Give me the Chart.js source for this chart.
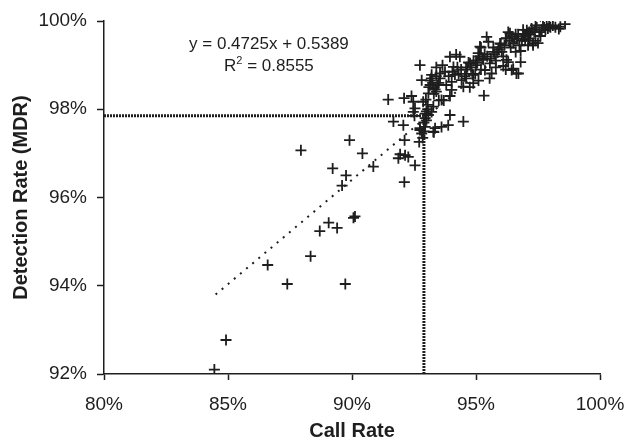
<!DOCTYPE html>
<html>
<head>
<meta charset="utf-8">
<script src="https://cdn.jsdelivr.net/npm/chart.js@4"></script>
<style>
  html, body { margin: 0; padding: 0; background: #fff; }
  #wrap { width: 627px; height: 444px; }
</style>
</head>
<body>
<div id="wrap"><canvas id="callChart" width="627" height="444"></canvas></div>
<script>
// Call rate (x) and detection rate (y), in percent
const callRate = [
    84.45, 84.92, 86.60, 87.39, 87.94, 88.33, 88.70, 89.06, 89.40, 89.73,
    90.06, 90.12, 89.22, 89.76, 89.60, 89.90, 90.42, 90.86, 92.11, 92.54,
    91.94, 92.14, 92.27, 91.87, 92.12, 92.71, 92.74, 91.67, 92.07, 92.47,
    92.52, 92.81, 92.74, 93.08, 93.21, 93.28, 93.28, 93.61, 93.95, 93.88,
    94.49, 93.35, 93.30, 92.87, 92.47, 92.10, 91.46, 92.90, 92.95, 93.00,
    93.50, 92.74, 92.81, 93.21, 93.55, 93.15, 93.28, 93.08, 93.61, 93.95,
    94.35, 94.09, 94.15, 94.02, 94.42, 94.49, 94.02, 94.76, 94.89, 95.00,
    94.60, 93.70, 93.40, 93.50, 93.95, 95.32, 95.43, 95.50, 95.16, 95.09,
    95.29, 95.00, 95.56, 95.36, 95.63, 95.70, 95.97, 96.23, 96.37, 96.04,
    96.23, 96.30, 96.10, 96.44, 96.50, 96.71, 96.80, 96.60, 96.80, 96.50,
    96.98, 97.20, 97.24, 97.40, 97.70, 97.90, 98.00, 98.20, 98.34, 98.59,
    97.10, 97.40, 97.60, 97.50, 97.30, 96.90, 94.97, 94.89, 94.75, 95.10,
    94.85, 95.80, 96.20, 96.63, 95.55, 92.40, 92.98, 92.54, 93.20, 94.20,
    94.70, 94.90, 95.20, 95.20, 95.70, 95.80, 96.00, 96.10, 96.20, 96.30,
    97.05, 97.30, 97.10, 98.40, 97.80, 97.55, 97.00, 96.85, 96.65, 96.40,
    95.90, 95.45, 95.15, 94.60, 94.30, 93.80, 93.40, 93.65, 92.95, 92.85,
    93.05,
    // dense part of the cloud
    93.10, 93.25, 93.35, 93.45, 93.15, 93.30, 93.40, 93.55, 93.75, 93.90,
    94.05, 94.25, 94.40, 94.55, 94.65, 94.80, 95.05, 95.25, 95.35, 95.60,
    95.75, 95.85, 95.95, 96.15, 96.35, 96.55, 96.70, 96.75, 96.95, 97.15,
    97.25, 97.35, 97.45, 97.65, 97.75, 97.85, 97.95, 98.10, 96.45, 96.60,
    96.90, 97.15, 92.95, 93.05, 92.90, 93.00
];
const detectionRate = [
    92.10, 92.77, 94.47, 94.04, 97.07, 94.67, 95.24, 95.43, 95.31, 94.04,
    95.54, 95.57, 96.66, 96.50, 96.27, 97.30, 97.00, 96.70, 96.35, 96.73,
    96.98, 96.96, 96.92, 96.89, 97.30, 97.26, 97.53, 97.72, 97.64, 97.94,
    97.85, 97.45, 97.57, 97.87, 97.94, 98.06, 97.49, 97.60, 97.87, 97.64,
    97.72, 97.57, 97.48, 98.17, 98.17, 98.25, 98.22, 97.70, 97.80, 97.95,
    98.20, 99.00, 98.66, 98.78, 98.81, 98.55, 98.47, 98.36, 98.21, 99.19,
    99.19, 98.96, 98.78, 98.62, 98.66, 98.51, 98.44, 99.04, 98.78, 99.10,
    98.90, 98.20, 98.40, 98.60, 98.30, 98.31, 99.64, 99.53, 99.42, 99.27,
    99.12, 99.00, 99.04, 98.89, 98.81, 99.30, 99.49, 99.61, 99.72, 99.30,
    99.12, 99.07, 98.98, 98.89, 98.92, 98.81, 99.07, 99.30, 99.32, 99.50,
    99.57, 99.70, 99.83, 99.90, 99.90, 99.83, 99.86, 99.86, 99.82, 99.93,
    99.45, 99.55, 99.66, 99.50, 99.45, 99.80, 98.80, 98.59, 98.50, 98.65,
    98.80, 98.95, 98.90, 98.81, 98.70, 98.30, 98.22, 98.02, 98.70, 99.24,
    99.06, 99.10, 99.40, 98.90, 99.40, 99.10, 99.48, 99.20, 99.60, 99.75,
    99.79, 99.50, 99.70, 99.87, 99.80, 99.75, 99.65, 99.55, 99.60, 99.40,
    99.35, 99.20, 99.20, 98.70, 98.80, 98.55, 98.95, 99.00, 97.60, 97.35,
    98.10,
    // dense part of the cloud
    98.50, 98.60, 98.45, 98.55, 98.65, 98.35, 98.75, 98.70, 98.85, 98.75,
    98.85, 98.95, 98.90, 98.75, 98.95, 98.95, 99.05, 99.15, 99.25, 99.15,
    99.25, 99.30, 99.40, 99.45, 99.55, 99.60, 99.70, 99.45, 99.70, 99.75,
    99.80, 99.75, 99.85, 99.80, 99.85, 99.90, 99.88, 99.90, 99.65, 99.70,
    99.65, 99.60, 97.90, 98.00, 97.50, 97.75
];

// Trend line end points (y = 0.4725x + 0.5389), clipped at 100%
const trendX = [84.5, 97.6];
const trendY = [93.8, 100.0];

// Cut-off guide lines
const cutoffCall = 92.9;
const cutoffDetection = 97.85;

// Axis ticks
const xTicks = [80, 85, 90, 95, 100];
const yTicks = [92, 94, 96, 98, 100];

const equationText = 'y = 0.4725x + 0.5389';
const r2Value = '0.8555';

const FONT = "'Liberation Sans', Arial, sans-serif";
const INK = '#1e1e1e';

const points = callRate.map((x, i) => ({ x: x, y: detectionRate[i] }));
const trend = trendX.map((x, i) => ({ x: x, y: trendY[i] }));
const guide = [
    { x: xTicks[0], y: cutoffDetection },
    { x: cutoffCall, y: cutoffDetection },
    { x: cutoffCall, y: yTicks[0] }
];

// Writes the regression equation onto the plot
const equationLabel = {
    id: 'equationLabel',
    afterDatasetsDraw(chart) {
        const ctx = chart.ctx;
        const xs = chart.scales.x;
        const ys = chart.scales.y;
        const cx = xs.getPixelForValue(86.65);
        ctx.save();
        ctx.fillStyle = INK;
        ctx.font = "17px " + FONT;
        ctx.textAlign = 'center';
        ctx.textBaseline = 'middle';
        ctx.fillText(equationText, cx, ys.getPixelForValue(99.48));
        // R² with a raised 2
        const yR = ys.getPixelForValue(98.98);
        const left = 'R', right = ' = ' + r2Value;
        const wl = ctx.measureText(left).width;
        const wr = ctx.measureText(right).width;
        ctx.font = "11px " + FONT;
        const ws = ctx.measureText('2').width;
        const start = cx - (wl + ws + wr) / 2;
        ctx.textAlign = 'left';
        ctx.fillText('2', start + wl, yR - 5);
        ctx.font = "17px " + FONT;
        ctx.fillText(left, start, yR);
        ctx.fillText(right, start + wl + ws, yR);
        ctx.restore();
    }
};

const ctx = document.getElementById('callChart').getContext('2d');
const callChart = new Chart(ctx, {
    type: 'scatter',
    data: {
        datasets: [{
            label: 'Guide',
            data: guide,
            showLine: true,
            borderColor: INK,
            borderWidth: 3,
            borderDash: [2, 1],
            pointRadius: 0,
            fill: false,
            order: 3
        }, {
            label: 'Trend',
            data: trend,
            showLine: true,
            borderColor: INK,
            borderWidth: 2,
            borderDash: [2, 6],
            pointRadius: 0,
            fill: false,
            order: 2
        }, {
            label: 'Samples',
            data: points,
            pointStyle: 'cross',
            pointRadius: 5.5,
            pointHoverRadius: 5.5,
            borderColor: INK,
            backgroundColor: INK,
            borderWidth: 1.8,
            showLine: false,
            order: 1
        }]
    },
    options: {
        responsive: false,
        animation: false,
        events: [],
        layout: {
            padding: { top: 21, right: 27, bottom: 0, left: 0 }
        },
        plugins: {
            legend: { display: false },
            tooltip: { enabled: false }
        },
        scales: {
            x: {
                type: 'linear',
                min: xTicks[0],
                max: xTicks[xTicks.length - 1],
                afterFit: (scale) => {
                    scale.height = 70;
                    scale.paddingLeft = 0;
                    scale.paddingRight = 0;
                },
                afterBuildTicks: (scale) => { scale.ticks = xTicks.map(v => ({ value: v })); },
                grid: {
                    drawOnChartArea: false,
                    drawTicks: true,
                    tickLength: 6,
                    tickWidth: 1.5,
                    color: INK
                },
                border: { display: true, color: INK, width: 1.5 },
                ticks: {
                    color: INK,
                    padding: 13,
                    maxRotation: 0,
                    font: { family: FONT, size: 19 },
                    callback: (v) => v + '%'
                },
                title: {
                    display: true,
                    text: 'Call Rate',
                    color: INK,
                    padding: { top: 0, bottom: 1 },
                    font: { family: FONT, size: 20, weight: 'bold' }
                }
            },
            y: {
                type: 'linear',
                min: yTicks[0],
                max: yTicks[yTicks.length - 1],
                afterFit: (scale) => {
                    scale.width = 104;
                    scale.paddingTop = 0;
                    scale.paddingBottom = 0;
                },
                afterBuildTicks: (scale) => { scale.ticks = yTicks.map(v => ({ value: v })); },
                grid: {
                    drawOnChartArea: false,
                    drawTicks: true,
                    tickLength: 7,
                    tickWidth: 1.5,
                    color: INK
                },
                border: { display: true, color: INK, width: 1.5 },
                ticks: {
                    color: INK,
                    padding: 10,
                    font: { family: FONT, size: 19 },
                    callback: (v) => v + '%'
                },
                title: {
                    display: true,
                    text: 'Detection Rate (MDR)',
                    color: INK,
                    padding: { top: 9, bottom: 0 },
                    font: { family: FONT, size: 20, weight: 'bold' }
                }
            }
        }
    },
    plugins: [equationLabel]
});
</script>
</body>
</html>
